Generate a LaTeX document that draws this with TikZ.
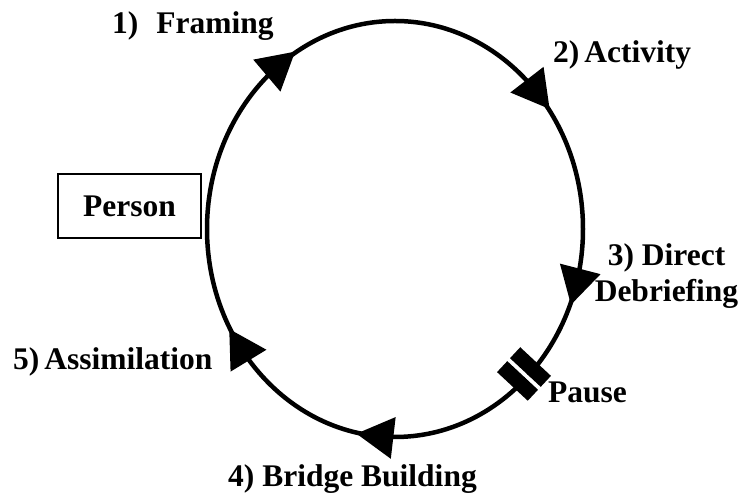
\documentclass[tikz,border=0pt]{standalone}
\usepackage{fontspec}
\setmainfont{Liberation Serif}
\newcommand\cycmark[1]{%
  \pgfmathsetmacro\cmx{395+188*cos(#1)}%
  \pgfmathsetmacro\cmy{268+208*sin(#1)}%
  \pgfmathsetmacro\cmphi{atan2(-208*cos(#1),188*sin(#1))}%
  \fill[shift={(\cmx,\cmy)},rotate=\cmphi] (19,0) -- (-18,21) -- (-18,-21) -- cycle;}
\begin{document}
\begin{tikzpicture}[x=1pt,y=1pt,
  lab/.style={font=\fontsize{31.5}{36}\selectfont\bfseries, inner sep=0, anchor=base west},
  cycline/.style={line width=4.5pt},
  boxed/.style={draw, line width=2pt, minimum width=143pt, minimum height=64pt, inner sep=0,
    font=\fontsize{31.5}{36}\selectfont\bfseries}]
\useasboundingbox (0,0) rectangle (740,497);
\fill[white] (0,0) rectangle (740,497);
% cycle
\coordinate (ctr) at (395,268);
\draw[cycline] (ctr) ellipse [x radius=188, y radius=208];
\foreach \a in {127.5,40.5,-16,-96,-146} {\cycmark{\a}}
% pause marker
\begin{scope}[shift={(524,123)},rotate=-133]
  \fill[white] (-2,-23) rectangle (2,23);
  \fill (2,-21) rectangle (17,21);
  \fill (-17,-21) rectangle (-2,21);
\end{scope}
% labels
\node[boxed] (person) at (129.5,291) {Person};
\node[lab] (l1) at (112,463) {1)\hspace{18pt}Framing};
\node[lab] (l2) at (553,434) {2)\hspace{5pt}Activity};
\node[lab, anchor=base, align=center] (l3) at (666.5,195) {3) Direct\\Debriefing};
\node[lab] (lp) at (548,94) {Pause};
\node[lab] (l4) at (228,10) {4) Bridge Building};
\node[lab] (l5) at (13,127) {5)\hspace{5pt}Assimilation};
\end{tikzpicture}
\end{document}
